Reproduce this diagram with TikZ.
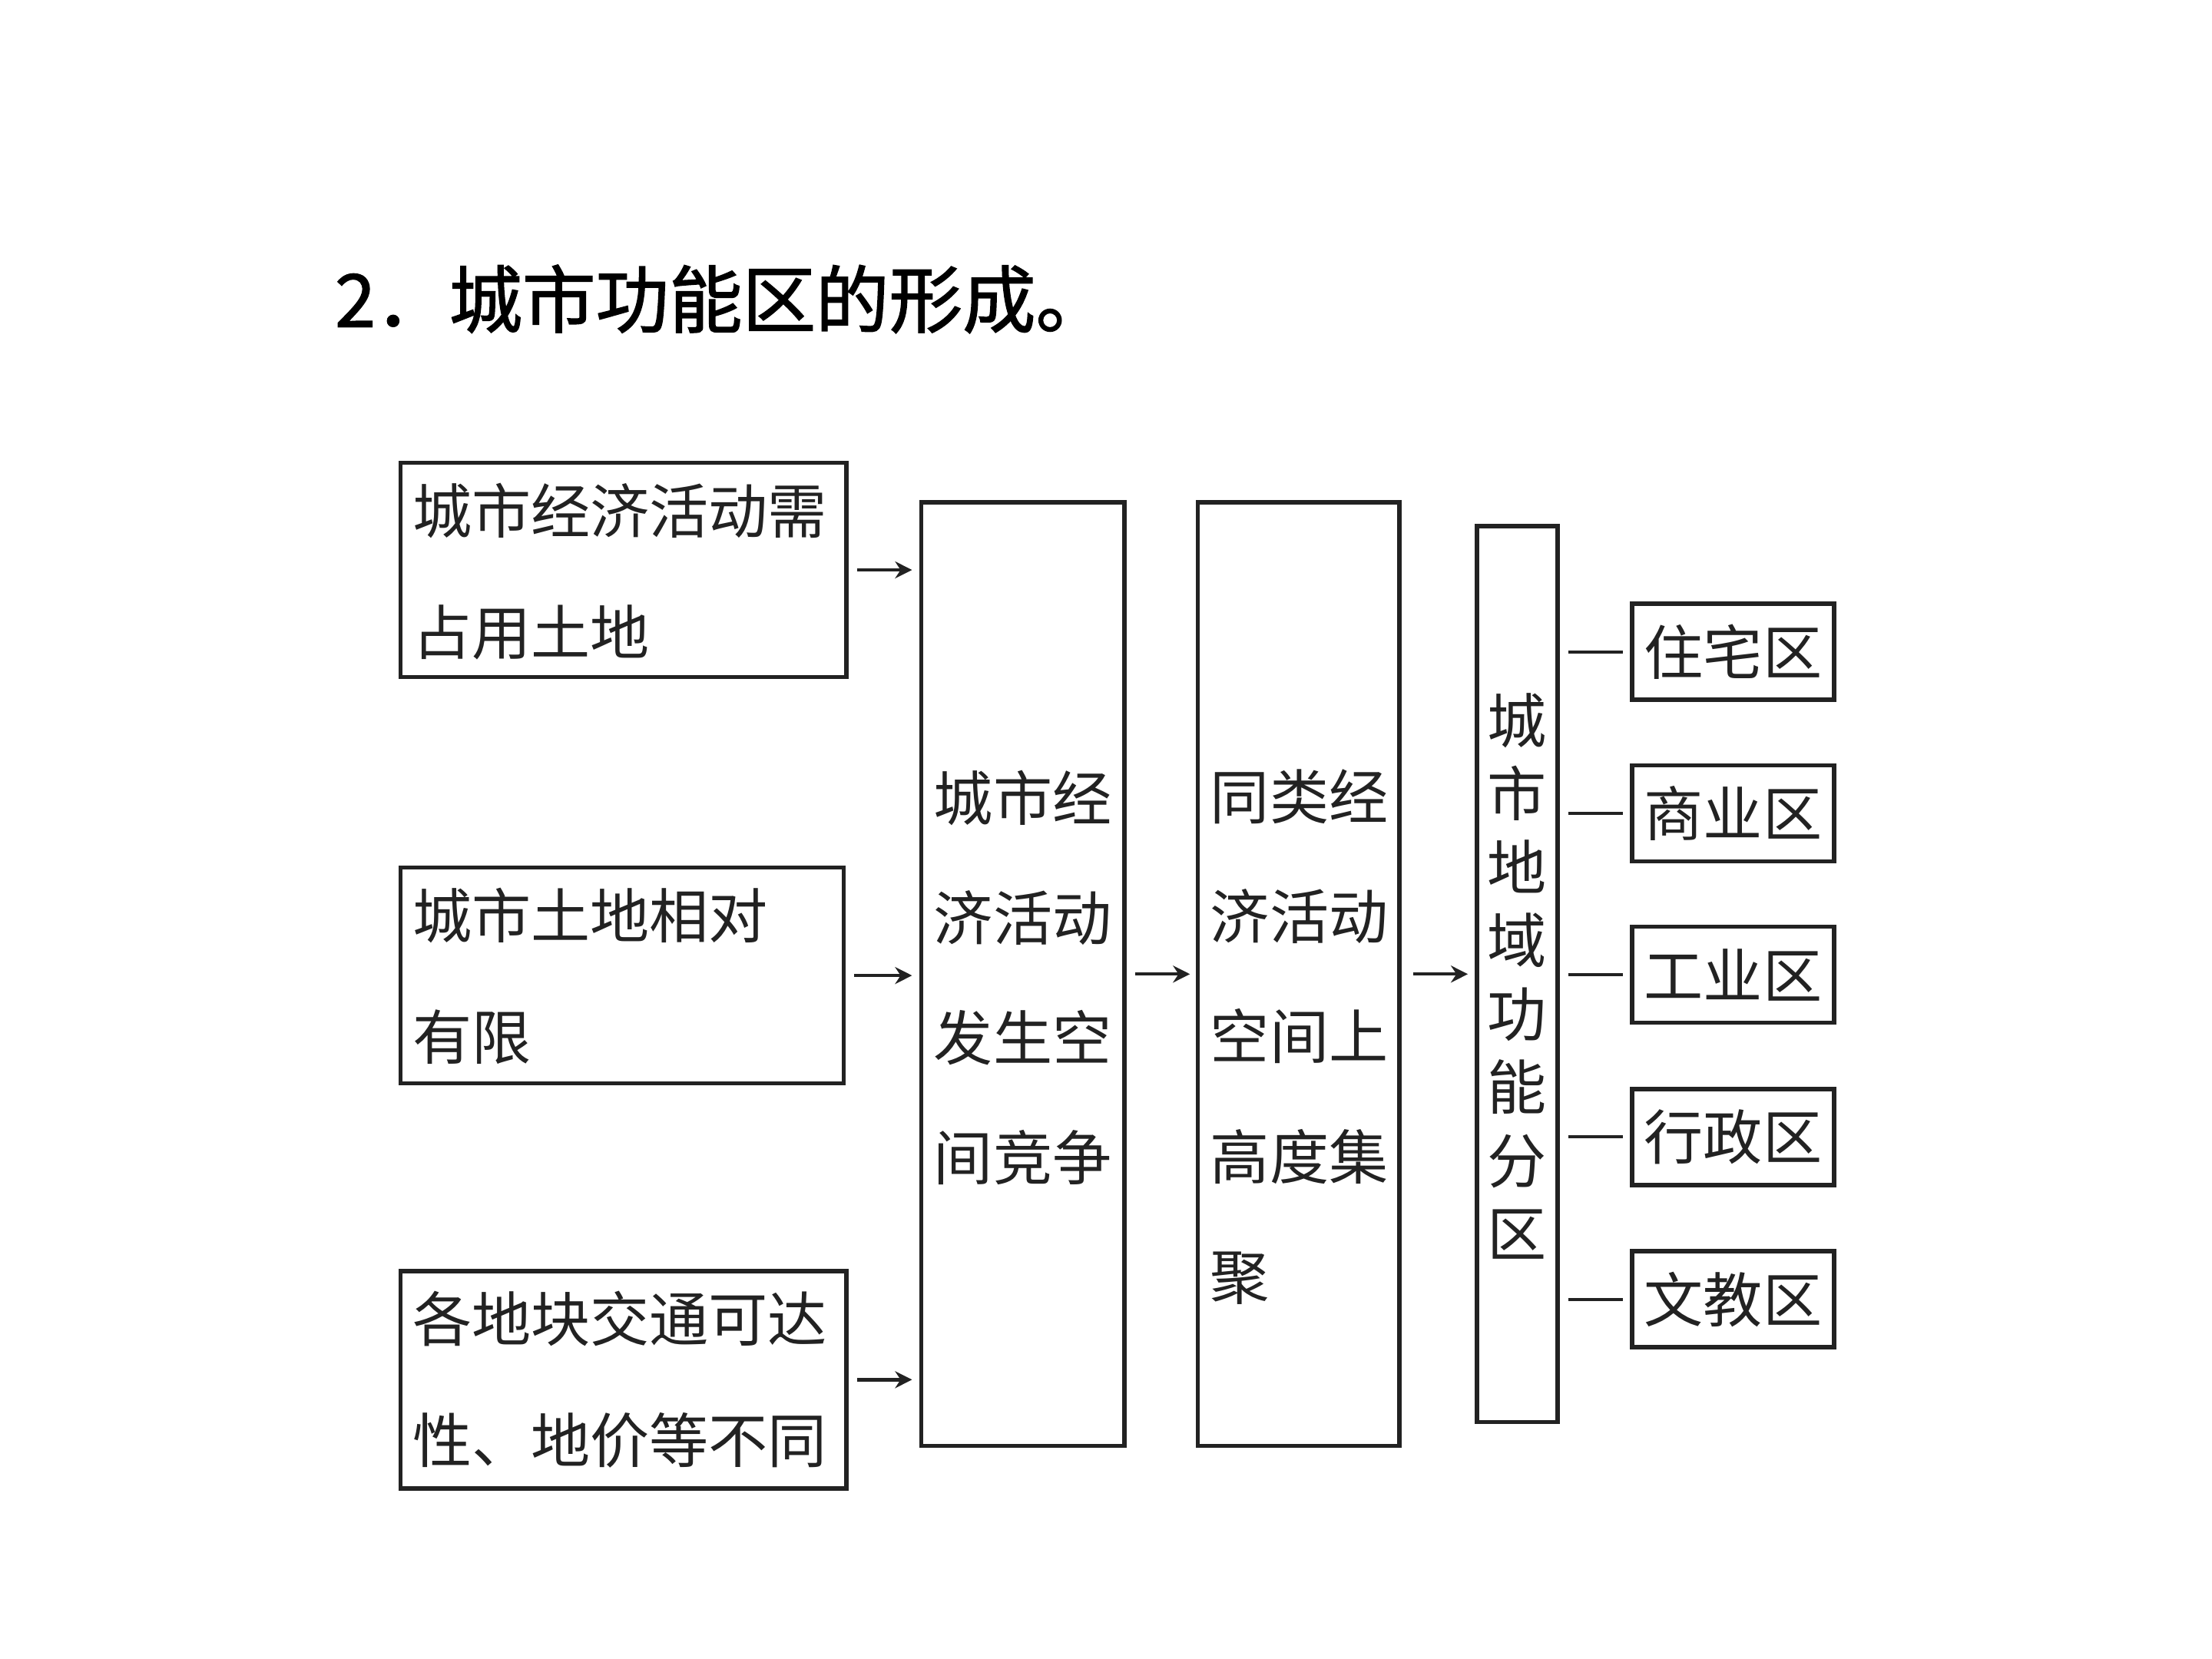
\documentclass[tikz,border=0pt]{standalone}
\usepackage{fontspec}
\newfontfamily\cjk{Noto Sans CJK SC}
\newfontfamily\cjkb[FakeBold=1.5]{Noto Sans CJK SC}
\usetikzlibrary{arrows.meta}
\definecolor{ink}{HTML}{222222}
\begin{document}
\begin{tikzpicture}[x=0.5pt,y=-0.5pt,
  box/.style={draw=ink, line width=1.5pt, inner sep=0pt},
  txt/.style={font=\cjk\fontsize{21}{43}\selectfont, text=ink, align=left, inner sep=0pt},
  ctxt/.style={font=\cjk\fontsize{21}{42.5}\selectfont, text=ink, align=center, inner sep=0pt},
  vtxt/.style={font=\cjk\fontsize{21}{26}\selectfont, text=ink, align=center, inner sep=0pt},
  arr/.style={draw=ink, line width=1.2pt, -{Stealth[length=6pt,width=6pt]}},
  link/.style={draw=ink, line width=1.1pt}]
\useasboundingbox (0,0) rectangle (1568,1176);

\node[anchor=west, inner sep=0pt, text=black, font=\cjkb\fontsize{26}{30}\selectfont] (title) at (237,212) {2．城市功能区的形成。};

% left boxes
\node[box, minimum width=158pt, minimum height=76pt] (a1) at (442,404) {};
\node[txt, anchor=west] (t1) at (292,405) {城市经济活动需\\占用土地};
\node[box, minimum width=157pt, minimum height=76.5pt] (a2) at (441,691.5) {};
\node[txt, anchor=west] (t2) at (292,692) {城市土地相对\\有限};
\node[box, minimum width=158pt, minimum height=77pt] (a3) at (442,978) {};
\node[txt, anchor=west] (t3) at (292,978) {各地块交通可达\\性、地价等不同};

% middle boxes
\node[box, minimum width=72pt, minimum height=334.5pt] (b) at (725,690.5) {};
\node[ctxt] (tb) at (725,693) {城市经\\济活动\\发生空\\间竞争};
\node[box, minimum width=71.5pt, minimum height=334.5pt] (c) at (920.5,690.5) {};
\node[ctxt, align=left] (tc) at (921,735) {同类经\\济活动\\空间上\\高度集\\聚};
\node[box, minimum width=28.5pt, minimum height=317.5pt] (d) at (1075.5,690.5) {};
\node[vtxt] (td) at (1075.5,692) {城\\市\\地\\域\\功\\能\\分\\区};

% right boxes
\foreach \n/\y/\t in {e1/462/住宅区, e2/576.5/商业区, e3/691/工业区, e4/806/行政区, e5/921/文教区}{
  \node[box, minimum width=71.5pt, minimum height=34pt] (\n) at (1228.5,\y) {};
  \node[txt, align=center] (t\n) at (1228.5,\y) {\t};
}

% connectors
\draw[arr, shorten <=3pt, shorten >=2.5pt] (a1.east) -- (a1.east -| b.west);
\draw[arr, shorten <=3pt, shorten >=2.5pt] (a2.east) -- (a2.east -| b.west);
\draw[arr, shorten <=3pt, shorten >=2.5pt] (a3.east) -- (a3.east -| b.west);
\draw[arr, shorten <=3pt, shorten >=2pt] (b.east) -- (c.west);
\draw[arr, shorten <=4pt, shorten >=2.5pt] (c.east) -- (d.west);
\foreach \n in {e1,e2,e3,e4,e5}{
  \draw[link, shorten <=3pt, shorten >=2.5pt] (d.east |- \n.west) -- (\n.west);
}
\end{tikzpicture}
\end{document}
